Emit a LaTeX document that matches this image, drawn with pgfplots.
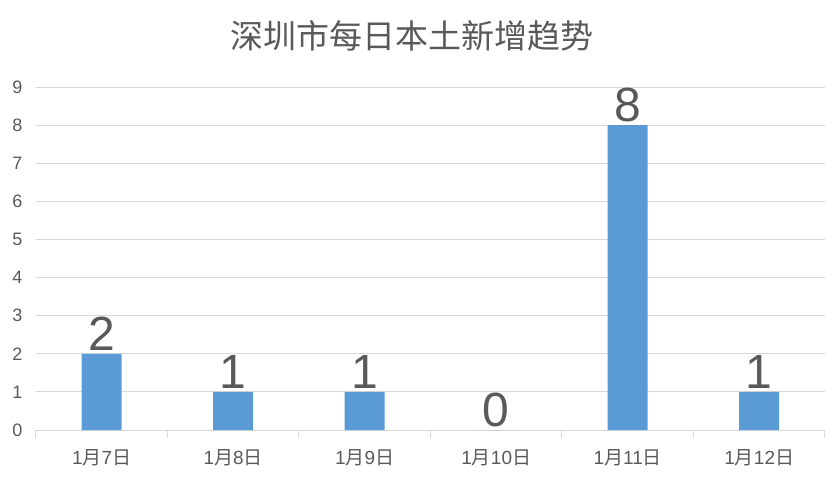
\documentclass[border=0pt]{standalone}
\usepackage{pgfplots}
\pgfplotsset{compat=1.18}
\usepackage{fontspec}
\setmainfont{Liberation Sans}
\newfontfamily\cjk{Noto Sans CJK SC}
\definecolor{barblue}{HTML}{5B9BD5}
\definecolor{txtgray}{HTML}{595959}
\definecolor{gridgray}{HTML}{D9D9D9}

\begin{document}
\begin{tikzpicture}
\useasboundingbox (-36pt,-50pt) rectangle (800pt,430pt);
\begin{axis}[
    at={(0pt,0pt)}, anchor=south west,
    scale only axis,
    width=789pt, height=343pt,
    xmin=-0.5, xmax=5.5,
    ymin=0, ymax=9,
    axis x line*=bottom,
    axis y line*=left,
    x axis line style={gridgray, line width=1pt, -},
    y axis line style={draw=none},
    ytick={0,...,9},
    ytick style={draw=none},
    ymajorgrids=true,
    grid style={gridgray, line width=1pt},
    y tick label style={font=\fontsize{18}{18}\selectfont, text=txtgray, xshift=-10pt},
    xtick={0,...,5},
    xticklabels={1{\cjk 月}7{\cjk 日},1{\cjk 月}8{\cjk 日},1{\cjk 月}9{\cjk 日},1{\cjk 月}10{\cjk 日},1{\cjk 月}11{\cjk 日},1{\cjk 月}12{\cjk 日}},
    major x tick style={draw=none},
    extra x ticks={-0.5,0.5,1.5,2.5,3.5,4.5,5.5},
    extra x tick labels={},
    extra x tick style={major tick length=8pt, xtick align=outside,
        major x tick style={draw=gridgray, line width=1pt}, grid=none},
    x tick label style={font=\fontsize{19}{19}\selectfont, text=txtgray, yshift=-16pt},
    /pgf/number format/assume math mode=true,
    title={\cjk 深圳市每日本土新增趋势},
    title style={font=\fontsize{33}{33}\selectfont, text=txtgray, yshift=26pt, xshift=-18pt},
]
\addplot[ybar, bar width=40pt, fill=barblue, draw=none,
    nodes near coords,
    every node near coord/.append style={font=\fontsize{48}{48}\selectfont, text=txtgray, inner sep=0pt, anchor=south, yshift=3pt}]
    coordinates {(0,2) (1,1) (2,1) (3,0) (4,8) (5,1)};
\end{axis}
\end{tikzpicture}
\end{document}
